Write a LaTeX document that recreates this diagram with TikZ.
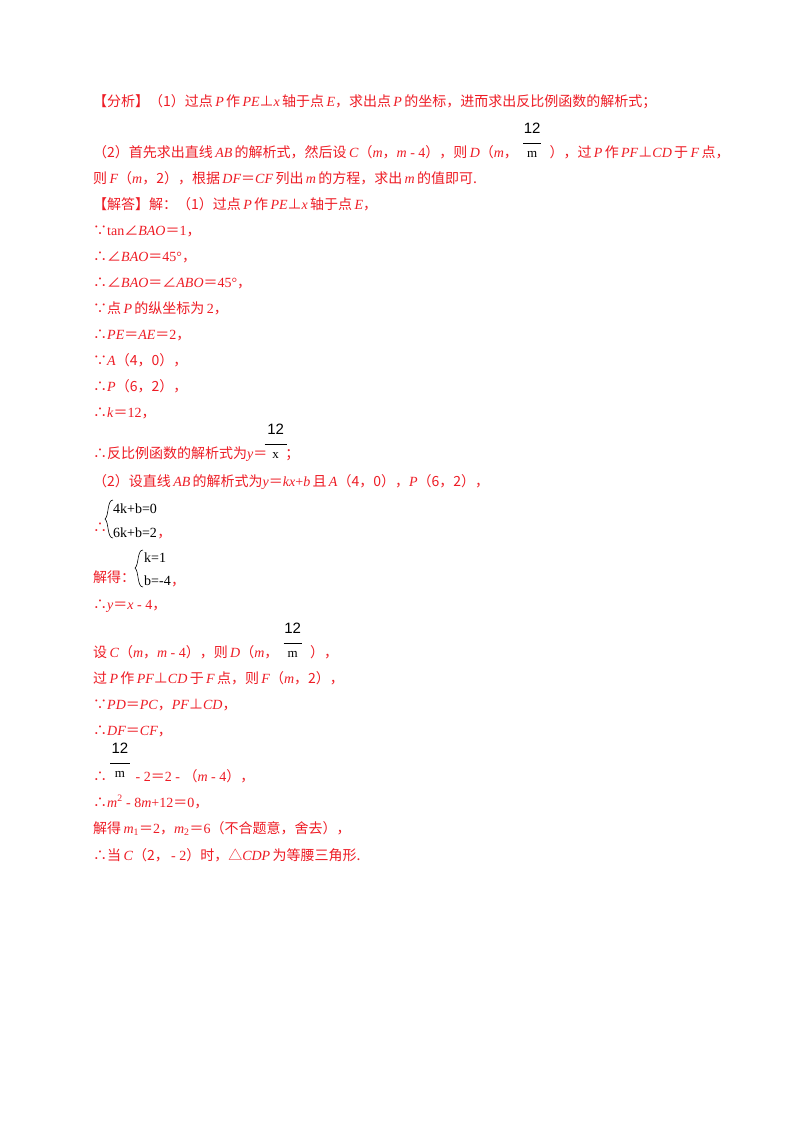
\documentclass[tikz,border=0pt]{standalone}
\usepackage{fontspec}
\setmainfont{Liberation Serif}
\newfontfamily\cjk{Noto Sans CJK SC}
\newfontfamily\fr{Liberation Sans}
\newcommand\Z[1]{{\cjk #1}}
\newcommand\I[1]{\textit{#1}}
\definecolor{red1}{HTML}{EE1C25}
\begin{document}
\begin{tikzpicture}[x=1pt,y=-1pt,
 tl/.style={anchor=base west,inner sep=0pt,text=red1,font=\fontsize{14}{14}\selectfont},
 fn/.style={anchor=base,inner sep=0pt,text=black,font=\fr\fontsize{15}{15}\selectfont},
 fd/.style={anchor=base,inner sep=0pt,text=black,font=\fontsize{13}{13}\selectfont},
 sy/.style={anchor=base west,inner sep=0pt,font=\fontsize{14}{14}\selectfont}]
\useasboundingbox (0,0) rectangle (800,1132);
\fill[white] (0,0) rectangle (800,1132);
\node[tl] (l1) at (93,106) {\Z{【分析】（1）过点}\,\I{P}\,\Z{作}\,\I{PE}\Z{⊥}\I{x}\,\Z{轴于点}\,\I{E}\Z{，求出点}\,\I{P}\,\Z{的坐标，进而求出反比例函数的解析式；}};
% line 2
\node[tl] (l2a) at (93,157) {\Z{（2）首先求出直线}\,\I{AB}\,\Z{的解析式，然后设}\,\I{C}\Z{（}\I{m}\Z{，}\I{m} - 4\Z{），则}\,\I{D}\Z{（}\I{m}\Z{，}};
\node[fd] (f2d) at ([xshift=14pt]l2a.base east) {m};
\node[fn] (f2n) at ([yshift=24pt]f2d.base) {12};
\draw[black,line width=0.9pt] ([xshift=-9pt,yshift=14pt]f2d.base) -- ([xshift=9pt,yshift=14pt]f2d.base);
\node[tl] (l2b) at ([xshift=12pt]f2d.base east) {\Z{），过}\,\I{P}\,\Z{作}\,\I{PF}\Z{⊥}\I{CD}\,\Z{于}\,\I{F}\,\Z{点，}};
\node[tl] (l3) at (93,183) {\Z{则}\,\I{F}\Z{（}\I{m}\Z{，2），根据}\,\I{DF}\Z{＝}\I{CF}\,\Z{列出}\,\I{m}\,\Z{的方程，求出}\,\I{m}\,\Z{的值即可.}};
\node[tl] (l4) at (93,209) {\Z{【解答】解：（1）过点}\,\I{P}\,\Z{作}\,\I{PE}\Z{⊥}\I{x}\,\Z{轴于点}\,\I{E}\Z{，}};
\node[tl] (l5) at (93,235) {\Z{∵}tan\Z{∠}\I{BAO}\Z{＝}1\Z{，}};
\node[tl] (l6) at (93,261) {\Z{∴∠}\I{BAO}\Z{＝}45°\Z{，}};
\node[tl] (l7) at (93,287) {\Z{∴∠}\I{BAO}\Z{＝∠}\I{ABO}\Z{＝}45°\Z{，}};
\node[tl] (l8) at (93,313) {\Z{∵点}\,\I{P}\,\Z{的纵坐标为}\,2\Z{，}};
\node[tl] (l9) at (93,339) {\Z{∴}\I{PE}\Z{＝}\I{AE}\Z{＝}2\Z{，}};
\node[tl] (l10) at (93,365) {\Z{∵}\I{A}\Z{（4，0），}};
\node[tl] (l11) at (93,391) {\Z{∴}\I{P}\Z{（6，2），}};
\node[tl] (l12) at (93,417) {\Z{∴}\I{k}\Z{＝}12\Z{，}};
% line 13
\node[tl] (l13a) at (93,458) {\Z{∴反比例函数的解析式为}\I{y}\Z{＝}};
\node[fd] (f13d) at ([xshift=8pt]l13a.base east) {x};
\node[fn] (f13n) at ([yshift=24pt]f13d.base) {12};
\draw[black,line width=0.9pt] ([xshift=-11pt,yshift=14pt]f13d.base) -- ([xshift=11pt,yshift=14pt]f13d.base);
\node[tl] (l13b) at ([xshift=6pt]f13d.base east) {\Z{；}};
\node[tl] (l14) at (93,486) {\Z{（2）设直线}\,\I{AB}\,\Z{的解析式为}\I{y}\Z{＝}\I{kx}+\I{b}\,\Z{且}\,\I{A}\Z{（4，0），}\I{P}\Z{（6，2），}};
% system 1
\node[tl] (l15) at (93,532) {\Z{∴}};
\node[sy] (s1a) at (113,513) {4k+b=0};
\node[sy] (s1b) at (113,537) {6k+b=2};
\node[tl] (s1c) at (s1b.base east) {\Z{，}};
\draw[black,line width=0.6pt] (113,500) .. controls (107,500) and (109,516) .. (105,519) .. controls (109,522) and (107,538) .. (113,538);
% system 2
\node[tl] (l16) at (93,582) {\Z{解得：}};
\node[sy] (s2a) at (144,562) {k=1};
\node[sy] (s2b) at (144,585) {b=-4};
\node[tl] (s2c) at (s2b.base east) {\Z{，}};
\draw[black,line width=0.6pt] (143,550) .. controls (137,550) and (139,565) .. (135,568) .. controls (139,571) and (137,587) .. (143,587);
\node[tl] (l17) at (93,609) {\Z{∴}\I{y}\Z{＝}\I{x} - 4\Z{，}};
% line 18
\node[tl] (l18a) at (93,657) {\Z{设}\,\I{C}\Z{（}\I{m}\Z{，}\I{m} - 4\Z{），则}\,\I{D}\Z{（}\I{m}\Z{，}};
\node[fd] (f18d) at ([xshift=14pt]l18a.base east) {m};
\node[fn] (f18n) at ([yshift=24pt]f18d.base) {12};
\draw[black,line width=0.9pt] ([xshift=-9pt,yshift=14pt]f18d.base) -- ([xshift=9pt,yshift=14pt]f18d.base);
\node[tl] (l18b) at ([xshift=12pt]f18d.base east) {\Z{），}};
\node[tl] (l19) at (93,683) {\Z{过}\,\I{P}\,\Z{作}\,\I{PF}\Z{⊥}\I{CD}\,\Z{于}\,\I{F}\,\Z{点，则}\,\I{F}\Z{（}\I{m}\Z{，2），}};
\node[tl] (l20) at (93,709) {\Z{∵}\I{PD}\Z{＝}\I{PC}\Z{，}\I{PF}\Z{⊥}\I{CD}\Z{，}};
\node[tl] (l21) at (93,735) {\Z{∴}\I{DF}\Z{＝}\I{CF}\Z{，}};
% line 22
\node[tl] (l22a) at (93,781) {\Z{∴}};
\node[fd] (f22d) at (120,777) {m};
\node[fn] (f22n) at ([yshift=24pt]f22d.base) {12};
\draw[black,line width=0.9pt] ([xshift=-10pt,yshift=14pt]f22d.base) -- ([xshift=10pt,yshift=14pt]f22d.base);
\node[tl] (l22b) at (132,781) {\ - 2\Z{＝}2 - \Z{（}\I{m} - 4\Z{），}};
\node[tl] (l23) at (93,807) {\Z{∴}\I{m}\textsuperscript{2} - 8\I{m}+12\Z{＝}0\Z{，}};
\node[tl] (l24) at (93,833) {\Z{解得}\,\I{m}\textsubscript{1}\Z{＝}2\Z{，}\I{m}\textsubscript{2}\Z{＝}6\Z{（不合题意，舍去），}};
\node[tl] (l25) at (93,860) {\Z{∴当}\,\I{C}\Z{（2，}\,- 2\Z{）时，△}\I{CDP}\,\Z{为等腰三角形.}};
\end{tikzpicture}
\end{document}
